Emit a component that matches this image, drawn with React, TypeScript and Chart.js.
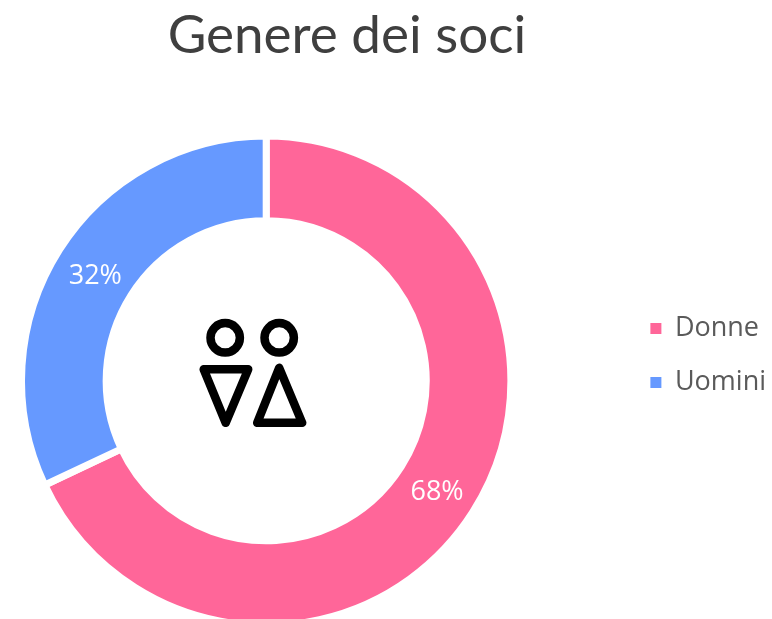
import React, { useEffect, useRef } from "react";
import { Chart, registerables } from "chart.js";

Chart.register(...registerables);

const titleText = "Genere dei soci";
const categories = ["Donne", "Uomini"];
const values = [68, 32];
const colors = ["#FF6699", "#6699FF"];

const shiftPlugin = {
  id: "shiftBoxes",
  afterLayout(chart: any) {
    const l = chart.legend;
    l.left += 91; l.right += 91;
    l.top += 41; l.bottom += 41;
    const t = chart.titleBlock;
    t.left += 4.5; t.right += 4.5;
  },
};

const labelPlugin = {
  id: "sliceLabels",
  afterDatasetsDraw(chart: any) {
    const { ctx } = chart;
    const meta = chart.getDatasetMeta(0);
    ctx.save();
    ctx.fillStyle = "#ffffff";
    ctx.font = '27px "Open Sans"';
    ctx.textAlign = "center";
    ctx.textBaseline = "middle";
    meta.data.forEach((arc: any, i: number) => {
      const p = arc.tooltipPosition();
      ctx.fillText(values[i] + "%", p.x, p.y + 3.5);
    });
    ctx.restore();
  },
};

const iconPlugin = {
  id: "centerIcon",
  afterDatasetsDraw(chart: any) {
    const { ctx } = chart;
    const a = chart.getDatasetMeta(0).data[0];
    ctx.save();
    ctx.translate(a.x, a.y);
    ctx.strokeStyle = "#000000";
    ctx.lineWidth = 8.5;
    ctx.lineJoin = "round";
    const circle = (x: number, y: number) => {
      ctx.beginPath();
      ctx.arc(x, y, 14.7, 0, Math.PI * 2);
      ctx.stroke();
    };
    const tri = (pts: number[][]) => {
      ctx.beginPath();
      ctx.moveTo(pts[0][0], pts[0][1]);
      ctx.lineTo(pts[1][0], pts[1][1]);
      ctx.lineTo(pts[2][0], pts[2][1]);
      ctx.closePath();
      ctx.stroke();
    };
    circle(-41, -43);
    circle(13, -43);
    tri([[-62.5, -11.5], [-18, -11.5], [-40.5, 42]]);
    tri([[13, -13], [-9, 42], [36, 42]]);
    ctx.restore();
  },
};

export default function App() {
  const ref = useRef<HTMLCanvasElement>(null);
  useEffect(() => {
    const chart = new Chart(ref.current as HTMLCanvasElement, {
      type: "doughnut",
      data: {
        labels: categories,
        datasets: [
          {
            data: values,
            backgroundColor: colors,
            borderColor: "#ffffff",
            borderWidth: 7,
            hoverOffset: 0,
          },
        ],
      },
      options: {
        responsive: false,
        animation: false,
        cutout: "65.4%",
        layout: { padding: { left: 0, right: 87, top: 0, bottom: 0 } },
        plugins: {
          title: {
            display: true,
            text: titleText,
            color: "#3f3f3f",
            font: { family: "Lato", size: 53, weight: "normal" },
            padding: { top: 4, bottom: 65 },
          },
          legend: {
            position: "right",
            labels: {
              usePointStyle: true,
              pointStyle: "rect",
              boxWidth: 11,
              boxHeight: 11,
              padding: 27,
              color: "#5a5a5a",
              font: { family: "Open Sans", size: 27 },
              generateLabels: (chart: any) =>
                categories.map((text, i) => ({
                  text,
                  index: i,
                  fillStyle: colors[i],
                  strokeStyle: colors[i],
                  lineWidth: 0,
                  pointStyle: "rect",
                  fontColor: "#5a5a5a",
                  hidden: !chart.getDataVisibility(i),
                })),
            },
          },
          tooltip: { enabled: false },
        },
      },
      plugins: [shiftPlugin, labelPlugin, iconPlugin],
    } as any);
    return () => chart.destroy();
  }, []);
  return (
    <div style={{ position: "absolute", left: 0, top: 0, width: 772, height: 619, overflow: "hidden" }}>
      <canvas ref={ref} width={772} height={629} style={{ display: "block" }} />
    </div>
  );
}
